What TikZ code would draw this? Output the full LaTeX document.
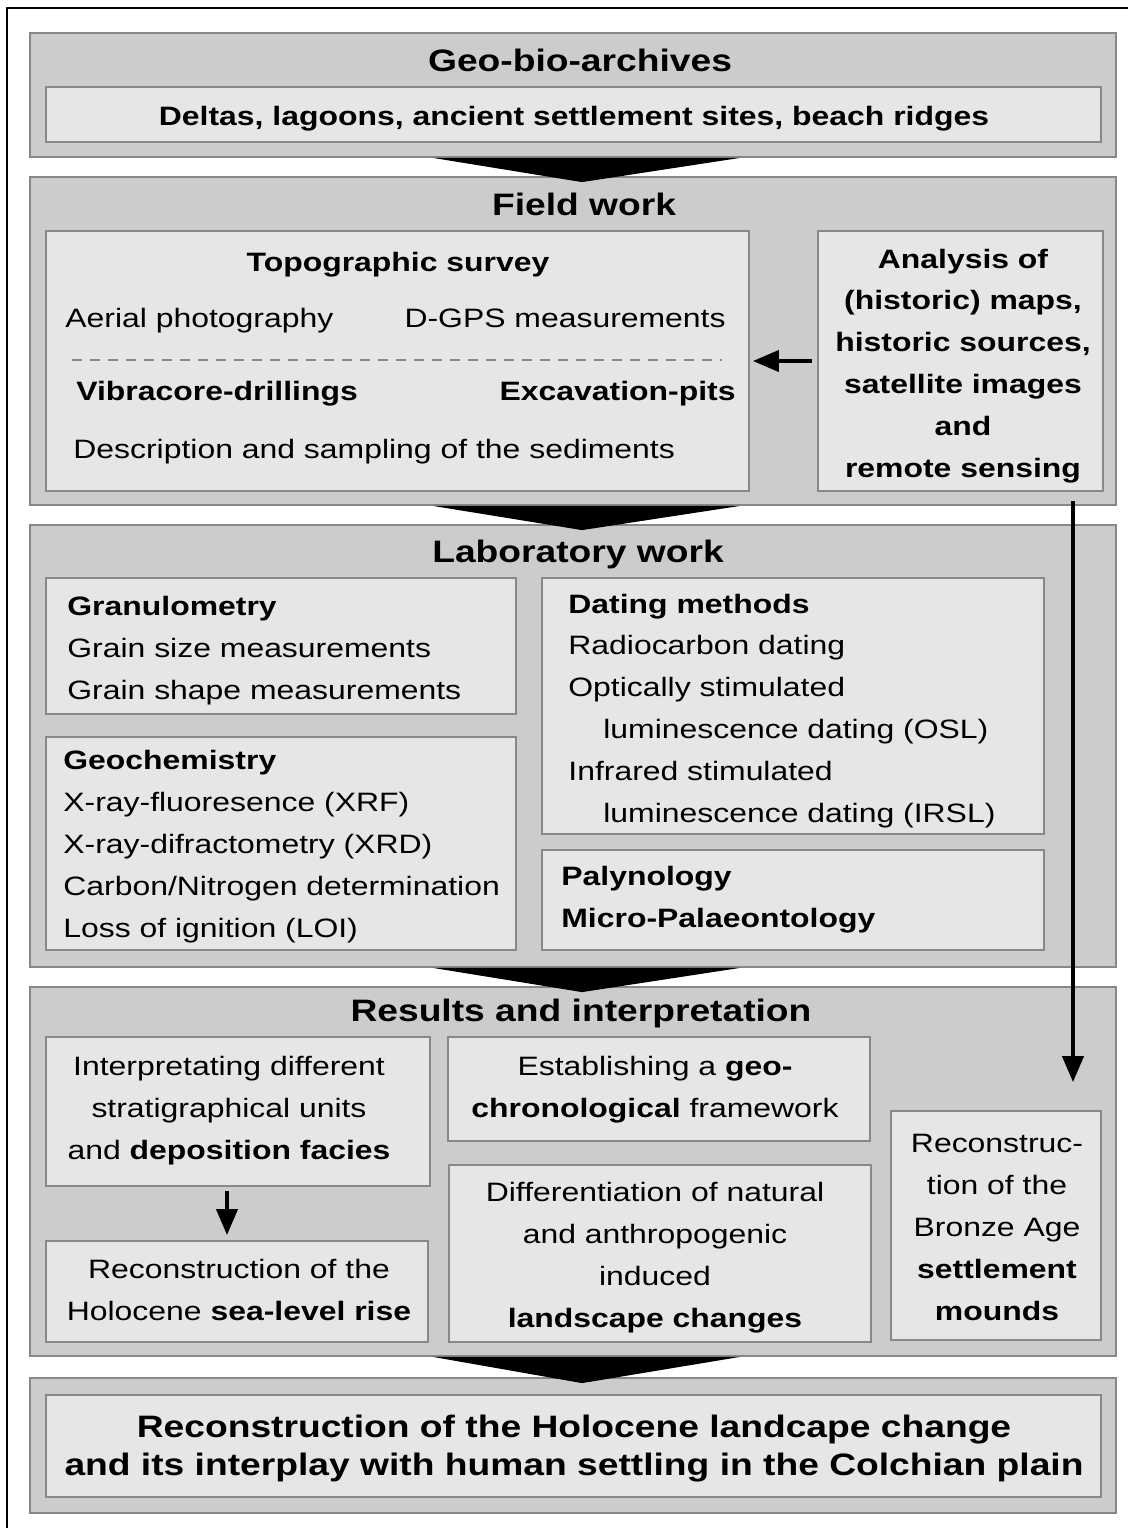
\documentclass[tikz,border=0pt]{standalone}
\usepackage{fontspec}
\setmainfont{Liberation Sans}[FakeStretch=1.2]
\usepackage{xcolor}
\usepackage{tikz}
\usetikzlibrary{fit,arrows.meta}
\definecolor{boxgray}{RGB}{204,204,204}
\definecolor{innergray}{RGB}{230,230,230}
\definecolor{linegray}{RGB}{136,136,136}
\newcommand{\bodyfont}{\fontsize{13.3}{20.9}\selectfont}
\newcommand{\headfont}{\fontsize{15.5}{19}\selectfont\bfseries}
\newcommand{\panel}[6]{\node[#1, fit={(#3,#4) (#5,#6)}] (#2) {};}
\tikzset{
	outer/.style={draw=linegray, fill=boxgray, line width=0.9pt, inner sep=0pt},
	inner/.style={draw=linegray, fill=innergray, line width=0.9pt, inner sep=0pt},
	head/.style={font=\headfont, inner sep=0pt, anchor=base, align=center},
	txt/.style={font=\bodyfont, inner sep=0pt},
	arr/.style={line width=2pt, -{Triangle[length=13pt, width=10.5pt]}},
}

\begin{document}
\begin{tikzpicture}[x=0.5pt, y=-0.5pt]
			\useasboundingbox (0,0) rectangle (1128,1528);
			\draw[line width=1pt] (7,1528) -- (7,8) -- (1128,8);

			\panel{outer}{geo}{30}{33}{1116}{157}
			\panel{inner}{geoin}{46}{87}{1101}{142}
			\node[head] (geohead) at (580,71) {Geo-bio-archives};
			\node[txt, anchor=base, font=\bodyfont\bfseries] (geotxt) at (574,125) {Deltas, lagoons, ancient settlement sites, beach ridges};

			\panel{outer}{field}{30}{177}{1116}{505}
			\panel{inner}{topo}{46}{231}{749}{491}
			\panel{inner}{ana}{818}{231}{1103}{491}
			\node[head] (fieldhead) at (584,215) {Field work};
			\node[txt, anchor=base, font=\bodyfont\bfseries] (survey) at (398,271) {Topographic survey};
			\node[txt, anchor=base west] (aerial) at (65,327) {Aerial photography};
			\node[txt, anchor=base east] (dgps) at (726,327) {D-GPS measurements};
			\draw[linegray, line width=0.6pt, dash pattern=on 5pt off 4pt] (72,360) -- (722,360);
			\node[txt, anchor=base west, font=\bodyfont\bfseries] (vibra) at (76,400) {Vibracore-drillings};
			\node[txt, anchor=base east, font=\bodyfont\bfseries] (pits) at (736,400) {Excavation-pits};
			\node[txt, anchor=base west] (descr) at (73,458) {Description and sampling of the sediments};
			\node[txt, anchor=base, align=center, font=\bodyfont\bfseries] (anatxt) at (963,477) {Analysis of\\(historic) maps,\\historic sources,\\satellite images\\and\\remote sensing};

			\panel{outer}{lab}{30}{525}{1116}{967}
			\panel{inner}{gran}{46}{578}{516}{714}
			\panel{inner}{chem}{46}{737}{516}{950}
			\panel{inner}{dating}{542}{578}{1044}{834}
			\panel{inner}{paly}{542}{850}{1044}{950}
			\node[head] (labhead) at (578,562) {Laboratory work};
			\node[txt, anchor=base west, align=left] (grantxt) at (67,699) {\textbf{Granulometry}\\Grain size measurements\\Grain shape measurements};
			\node[txt, anchor=base west, align=left] (chemtxt) at (63,937) {\textbf{Geochemistry}\\X-ray-fluoresence (XRF)\\X-ray-difractometry (XRD)\\Carbon/Nitrogen determination\\Loss of ignition (LOI)};
			\node[txt, anchor=base west, align=left] (datingtxt) at (568,822) {\textbf{Dating methods}\\Radiocarbon dating\\Optically stimulated\\\hspace*{17.5pt}luminescence dating (OSL)\\Infrared stimulated\\\hspace*{17.5pt}luminescence dating (IRSL)};
			\node[txt, anchor=base west, align=left, font=\bodyfont\bfseries] (palytxt) at (561,927) {Palynology\\Micro-Palaeontology};

			\panel{outer}{res}{30}{987}{1116}{1356}
			\panel{inner}{interp}{46}{1037}{430}{1186}
			\panel{inner}{sea}{46}{1241}{428}{1342}
			\panel{inner}{geochron}{448}{1037}{870}{1141}
			\panel{inner}{land}{449}{1165}{871}{1342}
			\panel{inner}{bronze}{891}{1111}{1101}{1340}
			\node[head] (reshead) at (581,1021) {Results and interpretation};
			\node[txt, anchor=base, align=center] (interptxt) at (229,1159) {Interpretating different\\stratigraphical units\\and \textbf{deposition facies}};
			\node[txt, anchor=base, align=center] (seatxt) at (239,1320) {Reconstruction of the\\Holocene \textbf{sea-level rise}};
			\node[txt, anchor=base, align=center] (geochrontxt) at (655,1117) {Establishing a \textbf{geo-}\\\textbf{chronological} framework};
			\node[txt, anchor=base, align=center] (landtxt) at (655,1327) {Differentiation of natural\\and anthropogenic\\induced\\\textbf{landscape changes}};
			\node[txt, anchor=base, align=center] (bronzetxt) at (997,1320) {Reconstruc-\\tion of the\\Bronze Age\\\textbf{settlement}\\\textbf{mounds}};

			\panel{outer}{final}{30}{1378}{1116}{1513}
			\panel{inner}{finalin}{46}{1395}{1101}{1497}
			\node[head] (finaltxt) at (574,1475) {Reconstruction of the Holocene landcape change\\and its interplay with human settling in the Colchian plain};

			\foreach \a/\b in {geo/field, field/lab, lab/res, res/final}
				\fill ([xshift=-70pt]\a.south) -- ([xshift=83.5pt]\a.south) -- ([xshift=4.5pt, yshift=-3pt]\b.north) -- cycle;

			\coordinate (vline) at (1073,0);
			\draw[arr, shorten <=2.5pt, shorten >=1.5pt] (ana.west) -- (topo.east);
			\draw[arr, shorten <=4.5pt, shorten >=14pt] (ana.south -| vline) -- (bronze.north -| vline);
			\draw[arr, shorten <=2pt, shorten >=2.5pt] ([xshift=-5.5pt]interp.south) -- ([xshift=-5.5pt]interp.south |- sea.north);
		\end{tikzpicture}
\end{document}
